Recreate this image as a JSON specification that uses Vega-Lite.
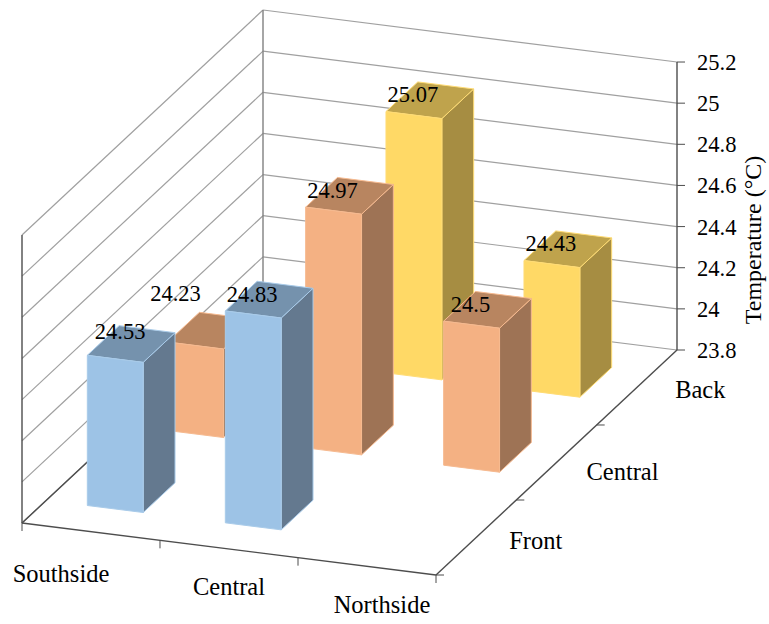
{
  "$schema": "https://vega.github.io/schema/vega-lite/v6.json",
  "width": 769,
  "height": 624,
  "autosize": {"type": "fit", "contains": "padding"},
  "padding": 0,
  "background": "white",
  "config": {"view": {"stroke": null}, "text": {"font": "Liberation Serif", "color": "#000000"}},
  "resolve": {"scale": {"stroke": "independent"}},
  "datasets": {
    "bars": [
      {"side": "Central", "depth": "Back", "temp": 25.07},
      {"side": "Northside", "depth": "Back", "temp": 24.43},
      {"side": "Southside", "depth": "Central", "temp": 24.23},
      {"side": "Central", "depth": "Central", "temp": 24.97},
      {"side": "Northside", "depth": "Central", "temp": 24.5},
      {"side": "Southside", "depth": "Front", "temp": 24.53},
      {"side": "Central", "depth": "Front", "temp": 24.83}
    ],
    "temps": [
      {"temp": 23.8, "label": "23.8"},
      {"temp": 24.0, "label": "24"},
      {"temp": 24.2, "label": "24.2"},
      {"temp": 24.4, "label": "24.4"},
      {"temp": 24.6, "label": "24.6"},
      {"temp": 24.8, "label": "24.8"},
      {"temp": 25.0, "label": "25"},
      {"temp": 25.2, "label": "25.2"}
    ],
    "frame": [
      {"u": 0, "v": 0, "t": 23.8, "u2": 0, "v2": 0, "t2": 25.2, "tone": "axis"},
      {"u": 0, "v": 1, "t": 23.8, "u2": 0, "v2": 1, "t2": 25.2, "tone": "wall"},
      {"u": 1, "v": 1, "t": 23.8, "u2": 1, "v2": 1, "t2": 25.2, "tone": "axis"},
      {"u": 0, "v": 0, "t": 23.8, "u2": 1, "v2": 0, "t2": 23.8, "tone": "axis"},
      {"u": 0, "v": 0, "t": 23.8, "u2": 0, "v2": 1, "t2": 23.8, "tone": "axis"},
      {"u": 1, "v": 0, "t": 23.8, "u2": 1, "v2": 1, "t2": 23.8, "tone": "axis"}
    ]
  },
  "encoding": {
    "x": {"field": "sx", "type": "quantitative", "scale": {"domain": [0, 769], "range": [0, 769]}, "axis": null},
    "y": {"field": "sy", "type": "quantitative", "scale": {"domain": [0, 624], "range": [0, 624]}, "axis": null}
  },
  "layer": [
    {
      "description": "Gridlines on the left and back walls",
      "data": {"name": "temps"},
      "transform": [
        {"calculate": "[{u:0,v:0,u2:0,v2:1},{u:0,v:1,u2:1,v2:1}]", "as": "seg"},
        {"flatten": ["seg"]},
        {"calculate": "22+414*datum.seg.u+241*datum.seg.v", "as": "sx"},
        {"calculate": "523+52*datum.seg.u-225*datum.seg.v-205.7*(datum.temp-23.8)", "as": "sy"},
        {"calculate": "22+414*datum.seg.u2+241*datum.seg.v2", "as": "sx2"},
        {"calculate": "523+52*datum.seg.u2-225*datum.seg.v2-205.7*(datum.temp-23.8)", "as": "sy2"}
      ],
      "mark": {"type": "rule", "stroke": "#a0a0a0", "strokeWidth": 1.2},
      "encoding": {"x2": {"field": "sx2"}, "y2": {"field": "sy2"}}
    },
    {
      "description": "Box edges",
      "data": {"name": "frame"},
      "transform": [
        {"calculate": "22+414*datum.u+241*datum.v", "as": "sx"},
        {"calculate": "523+52*datum.u-225*datum.v-205.7*(datum.t-23.8)", "as": "sy"},
        {"calculate": "22+414*datum.u2+241*datum.v2", "as": "sx2"},
        {"calculate": "523+52*datum.u2-225*datum.v2-205.7*(datum.t2-23.8)", "as": "sy2"}
      ],
      "mark": {"type": "rule", "strokeWidth": 1.4},
      "encoding": {
        "x2": {"field": "sx2"},
        "y2": {"field": "sy2"},
        "stroke": {"field": "tone", "type": "nominal", "scale": {"domain": ["axis", "wall"], "range": ["#4d4d4d", "#808080"]}, "legend": null}
      }
    },
    {
      "description": "Tick marks on the temperature axis",
      "data": {"name": "temps"},
      "transform": [
        {"calculate": "677", "as": "sx"},
        {"calculate": "350-205.7*(datum.temp-23.8)", "as": "sy"},
        {"calculate": "datum.sx+8", "as": "sx2"}
      ],
      "mark": {"type": "rule", "stroke": "#4d4d4d", "strokeWidth": 1},
      "encoding": {"x2": {"field": "sx2"}}
    },
    {
      "description": "Tick marks along the front edge",
      "data": {"values": [{"u": 0}, {"u": 0.3333}, {"u": 0.6667}, {"u": 1}]},
      "transform": [
        {"calculate": "22+414*datum.u", "as": "sx"},
        {"calculate": "523+52*datum.u", "as": "sy"},
        {"calculate": "datum.sy+8", "as": "sy2"}
      ],
      "mark": {"type": "rule", "stroke": "#4d4d4d", "strokeWidth": 1},
      "encoding": {"y2": {"field": "sy2"}}
    },
    {
      "description": "Tick marks along the depth edge",
      "data": {"values": [{"v": 0}, {"v": 0.3333}, {"v": 0.6667}]},
      "transform": [
        {"calculate": "436+241*datum.v", "as": "sx"},
        {"calculate": "575-225*datum.v", "as": "sy"},
        {"calculate": "datum.sx+8", "as": "sx2"}
      ],
      "mark": {"type": "rule", "stroke": "#4d4d4d", "strokeWidth": 1},
      "encoding": {"x2": {"field": "sx2"}}
    },
    {
      "description": "Bar faces, painted back to front with an oblique projection of side, depth and temperature",
      "data": {"name": "bars"},
      "transform": [
        {"calculate": "(indexof(['Southside','Central','Northside'],datum.side)+0.5)/3-0.0675", "as": "u0"},
        {"calculate": "(indexof(['Front','Central','Back'],datum.depth)+0.5)/3-0.066", "as": "v0"},
        {"calculate": "[{f:'side',k:0,a:1,b:0,h:0},{f:'side',k:1,a:1,b:1,h:0},{f:'side',k:2,a:1,b:1,h:1},{f:'side',k:3,a:1,b:0,h:1},{f:'top',k:4,a:0,b:0,h:1},{f:'top',k:5,a:1,b:0,h:1},{f:'top',k:6,a:1,b:1,h:1},{f:'top',k:7,a:0,b:1,h:1},{f:'front',k:8,a:0,b:0,h:0},{f:'front',k:9,a:1,b:0,h:0},{f:'front',k:10,a:1,b:0,h:1},{f:'front',k:11,a:0,b:0,h:1}]", "as": "c"},
        {"flatten": ["c"]},
        {"calculate": "datum.side+'/'+datum.depth+'/'+datum.c.f", "as": "faceId"},
        {"calculate": "datum.depth+'/'+datum.c.f", "as": "shade"},
        {"calculate": "datum.c.k", "as": "k"},
        {"calculate": "22+414*(datum.u0+0.135*datum.c.a)+241*(datum.v0+0.132*datum.c.b)", "as": "sx"},
        {"calculate": "523+52*(datum.u0+0.135*datum.c.a)-225*(datum.v0+0.132*datum.c.b)-205.7*(datum.c.h*(datum.temp-23.8))", "as": "sy"}
      ],
      "mark": {"type": "line", "interpolate": "linear-closed", "strokeWidth": 1, "strokeJoin": "round"},
      "encoding": {
        "detail": {"field": "faceId"},
        "order": {"field": "k", "type": "quantitative"},
        "fill": {
          "field": "shade",
          "type": "nominal",
          "legend": null,
          "scale": {
            "domain": ["Front/front", "Front/top", "Front/side", "Central/front", "Central/top", "Central/side", "Back/front", "Back/top", "Back/side"],
            "range": ["#9dc3e6", "#7592ad", "#64798f", "#f4b183", "#b88560", "#9e7355", "#ffd966", "#bfa34c", "#a68d42"]
          }
        },
        "stroke": {
          "field": "depth",
          "type": "nominal",
          "legend": null,
          "scale": {"domain": ["Front", "Central", "Back"], "range": ["#a9cbe9", "#f6ba90", "#ffdc75"]}
        }
      }
    },
    {
      "description": "Temperature printed above each bar",
      "data": {"name": "bars"},
      "transform": [
        {"calculate": "(indexof(['Southside','Central','Northside'],datum.side)+0.5)/3", "as": "u"},
        {"calculate": "(indexof(['Front','Central','Back'],datum.depth)+0.5)/3", "as": "v"},
        {"calculate": "22+414*datum.u+241*datum.v+(datum.temp===24.53?-11:datum.temp===24.23?-36:-17)", "as": "sx"},
        {"calculate": "523+52*datum.u-225*datum.v-205.7*(datum.temp-23.8)+(datum.temp===24.53?-12:datum.temp===24.23?-37:-5)", "as": "sy"}
      ],
      "mark": {"type": "text", "fontSize": 22.5, "align": "center", "baseline": "middle"},
      "encoding": {"text": {"field": "temp", "type": "nominal"}}
    },
    {
      "description": "Temperature axis labels",
      "data": {"name": "temps"},
      "transform": [
        {"calculate": "697", "as": "sx"},
        {"calculate": "351-205.7*(datum.temp-23.8)", "as": "sy"}
      ],
      "mark": {"type": "text", "fontSize": 22.5, "letterSpacing": 0.8, "align": "left", "baseline": "middle"},
      "encoding": {"text": {"field": "label", "type": "nominal"}}
    },
    {
      "description": "Labels along the front edge",
      "data": {"values": [{"name": "Southside", "u": 0.1667}, {"name": "Central", "u": 0.5}, {"name": "Northside", "u": 0.8333}]},
      "transform": [
        {"calculate": "22+414*datum.u+{Southside:-30,Central:0,Northside:15}[datum.name]", "as": "sx"},
        {"calculate": "523+52*datum.u+{Southside:43,Central:39,Northside:40}[datum.name]", "as": "sy"}
      ],
      "mark": {"type": "text", "fontSize": 24.5, "align": "center", "baseline": "middle"},
      "encoding": {"text": {"field": "name", "type": "nominal"}}
    },
    {
      "description": "Labels along the depth edge",
      "data": {"values": [{"name": "Front", "v": 0.1667}, {"name": "Central", "v": 0.5}, {"name": "Back", "v": 0.8333}]},
      "transform": [
        {"calculate": "436+241*datum.v+{Front:59.5,Central:66,Back:63.5}[datum.name]", "as": "sx"},
        {"calculate": "575-225*datum.v+{Front:5,Central:10,Back:3}[datum.name]", "as": "sy"}
      ],
      "mark": {"type": "text", "fontSize": 24.5, "align": "center", "baseline": "middle"},
      "encoding": {"text": {"field": "name", "type": "nominal"}}
    },
    {
      "description": "Temperature axis title",
      "data": {"values": [{"name": "Temperature (°C)", "u": 1, "v": 1, "t": 24.5}]},
      "transform": [
        {"calculate": "22+414*datum.u+241*datum.v+77", "as": "sx"},
        {"calculate": "523+52*datum.u-225*datum.v-205.7*(datum.t-23.8)+34", "as": "sy"}
      ],
      "mark": {"type": "text", "fontSize": 24, "align": "center", "baseline": "middle", "angle": 270},
      "encoding": {"text": {"field": "name", "type": "nominal"}}
    }
  ]
}
